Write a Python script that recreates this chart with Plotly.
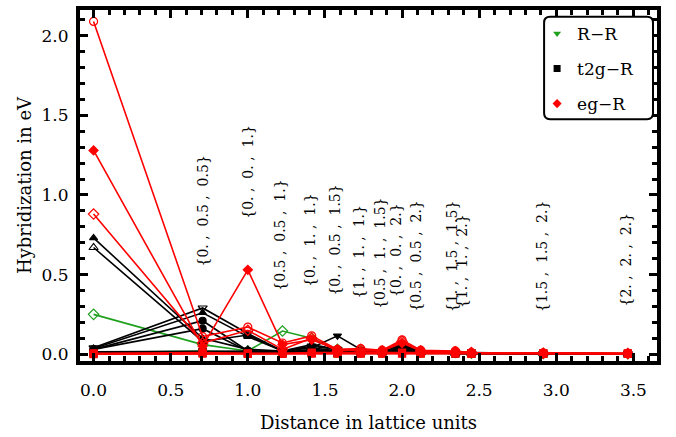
import plotly.graph_objects as go

# ---------------- data ----------------
distances = [0.0, 0.7071, 1.0, 1.2247, 1.4142, 1.5811, 1.7321, 1.8708,
             2.0, 2.1213, 2.3452, 2.4495, 2.9155, 3.4641]

vector_labels = ["{0., 0.5, 0.5}", "{0., 0., 1.}", "{0.5, 0.5, 1.}",
                 "{0., 1., 1.}", "{0., 0.5, 1.5}", "{1., 1., 1.}",
                 "{0.5, 1., 1.5}", "{0., 0., 2.}", "{0.5, 0.5, 2.}",
                 "{1., 1.5, 1.5}", "{1., 1., 2.}", "{1.5, 1.5, 2.}",
                 "{2., 2., 2.}"]
label_heights = [0.90, 1.145, 0.747, 0.716, 0.716, 0.643, 0.631, 0.655,
                 0.618, 0.612, 0.588, 0.612, 0.594]
label_xshift = [0, 0, -2, -2, -2, -2, -2, -6, -5, -4, -10, -2, -2]

# R-R (green)
rr_series = {
    "diamond-open": [0.25, 0.06, 0.02, 0.145, 0.10, 0.03, 0.02, 0.015, 0.04, 0.015, 0.01, 0.006, 0.004, 0.003],
    "circle":       [0.01, 0.02, 0.01, 0.01, 0.02, 0.01, 0.01, 0.01, 0.03, 0.01, 0.005, 0.005, 0.004, 0.003],
    "square":       [0.005, 0.01, 0.005, 0.005, 0.01, 0.005, 0.005, 0.005, 0.02, 0.005, 0.005, 0.004, 0.003, 0.002],
}
# t2g-R (black)
t2g_series = {
    "triangle-up":        [0.73, 0.10, 0.03, 0.02, 0.02, 0.02, 0.01, 0.01, 0.02, 0.01, 0.005, 0.005, 0.003, 0.002],
    "triangle-up-open":   [0.67, 0.08, 0.12, 0.02, 0.04, 0.02, 0.01, 0.01, 0.05, 0.01, 0.005, 0.005, 0.003, 0.002],
    "triangle-down-open": [0.04, 0.29, 0.13, 0.02, 0.05, 0.03, 0.01, 0.01, 0.06, 0.01, 0.01, 0.005, 0.003, 0.002],
    "triangle-up ":       [0.035, 0.26, 0.11, 0.02, 0.06, 0.03, 0.01, 0.01, 0.05, 0.01, 0.01, 0.005, 0.003, 0.002],
    "circle":             [0.03, 0.21, 0.02, 0.01, 0.02, 0.02, 0.01, 0.01, 0.04, 0.01, 0.005, 0.005, 0.003, 0.002],
    "circle ":            [0.03, 0.16, 0.02, 0.01, 0.03, 0.02, 0.01, 0.01, 0.03, 0.01, 0.005, 0.005, 0.003, 0.002],
    "triangle-down":      [0.015, 0.02, 0.02, 0.02, 0.04, 0.115, 0.03, 0.02, 0.06, 0.02, 0.01, 0.01, 0.005, 0.003],
    "square":             [0.01, 0.015, 0.01, 0.01, 0.01, 0.01, 0.01, 0.01, 0.02, 0.01, 0.005, 0.005, 0.003, 0.002],
}
# eg-R (red)
eg_series = {
    "circle-open":  [2.09, 0.11, 0.17, 0.07, 0.115, 0.03, 0.035, 0.025, 0.09, 0.025, 0.02, 0.01, 0.008, 0.005],
    "diamond":      [1.28, 0.05, 0.53, 0.06, 0.09, 0.03, 0.02, 0.02, 0.07, 0.02, 0.015, 0.01, 0.006, 0.004],
    "diamond-open": [0.88, 0.07, 0.15, 0.03, 0.10, 0.02, 0.03, 0.02, 0.08, 0.02, 0.015, 0.01, 0.006, 0.004],
    "square":       [0.005, 0.01, 0.005, 0.005, 0.01, 0.01, 0.01, 0.01, 0.01, 0.01, 0.01, 0.005, 0.005, 0.005],
    "circle":       [0.002, 0.005, 0.003, 0.003, 0.005, 0.005, 0.005, 0.005, 0.005, 0.005, 0.005, 0.003, 0.003, 0.003],
    "square ":      [0.0, 0.003, 0.002, 0.002, 0.003, 0.003, 0.003, 0.003, 0.003, 0.003, 0.003, 0.002, 0.002, 0.002],
}

legend_names = ["R\u2212R", "t2g\u2212R", "eg\u2212R"]
colors = ["#1fa01f", "#000000", "#ff0000"]
legend_symbols = ["triangle-down", "square", "diamond"]

FONT = "DejaVu Serif"

fig = go.Figure()

for group, color in zip([rr_series, t2g_series, eg_series], colors):
    for sym, vals in group.items():
        s = sym.strip()
        fig.add_trace(go.Scatter(
            x=distances, y=vals, mode="lines+markers",
            line=dict(color=color, width=1.6),
            marker=dict(symbol=s, size=8 if "open" in s else 7, color=color,
                        line=dict(color=color, width=1.2)),
            showlegend=False, hoverinfo="skip"))

for i, (name, color, sym) in enumerate(zip(legend_names, colors, legend_symbols)):
    fig.add_trace(go.Scatter(
        x=[None], y=[None], mode="markers", name=name,
        marker=dict(symbol=sym, size=7, color=color),
        legendgroup=f"g{i}", showlegend=True))

label_d = distances[1:]
for txt, d, h, xs in zip(vector_labels, label_d, label_heights, label_xshift):
    spaced = txt.replace(", ", "\u00a0,\u00a0\u00a0")
    fig.add_annotation(x=d, y=h, text=spaced, textangle=-90, showarrow=False,
                       xshift=xs, font=dict(family=FONT, size=14, color="black"))

# plot area in pixels
L, R, T, B = 79.5, 657.0, 6.0, 366.0
W, H = 676, 437

def px(x):
    return (x - L) / (R - L)

def py(y):
    return (B - y) / (B - T)

# rounded legend box
x0, x1, y0, y1 = px(544), px(653), py(118), py(13)
rx, ry = 6 / (R - L), 6 / (B - T)
path = (f"M {x0+rx},{y1} L {x1-rx},{y1} Q {x1},{y1} {x1},{y1-ry} "
        f"L {x1},{y0+ry} Q {x1},{y0} {x1-rx},{y0} L {x0+rx},{y0} "
        f"Q {x0},{y0} {x0},{y0+ry} L {x0},{y1-ry} Q {x0},{y1} {x0+rx},{y1} Z")
fig.add_shape(type="path", path=path, xref="paper", yref="paper",
              line=dict(color="black", width=2), fillcolor="white", layer="above")

axis_common = dict(
    showline=True, linecolor="black", linewidth=4, mirror="allticks",
    ticks="inside", ticklen=8, tickwidth=2.5, tickcolor="black",
    showgrid=False, zeroline=False,
    tickfont=dict(family=FONT, size=17, color="black"),
    minor=dict(ticks="inside", ticklen=5, tickwidth=2.5, tickcolor="black", dtick=0.1),
)

fig.update_layout(
    width=W, height=H,
    margin=dict(l=L, r=W - R, t=T, b=H - B),
    paper_bgcolor="white", plot_bgcolor="white",
    xaxis=dict(range=[-0.088, 3.653], dtick=0.5, tick0=0, tickformat=".1f",
               title=dict(text="Distance in lattice units", standoff=18,
                          font=dict(family=FONT, size=18, color="black")),
               ticklabelstandoff=11, **axis_common),
    yaxis=dict(range=[-0.043, 2.162], dtick=0.5, tick0=0, tickformat=".1f",
               title=dict(text="Hybridization in eV", standoff=6,
                          font=dict(family=FONT, size=18, color="black")),
               ticklabelstandoff=4, **axis_common),
    legend=dict(x=px(537), y=py(12), xanchor="left", yanchor="top",
                bgcolor="rgba(0,0,0,0)", borderwidth=0, tracegroupgap=10,
                traceorder="grouped",
                font=dict(family=FONT, size=17, color="black")),
    showlegend=True,
)

fig.write_html("out.html")
